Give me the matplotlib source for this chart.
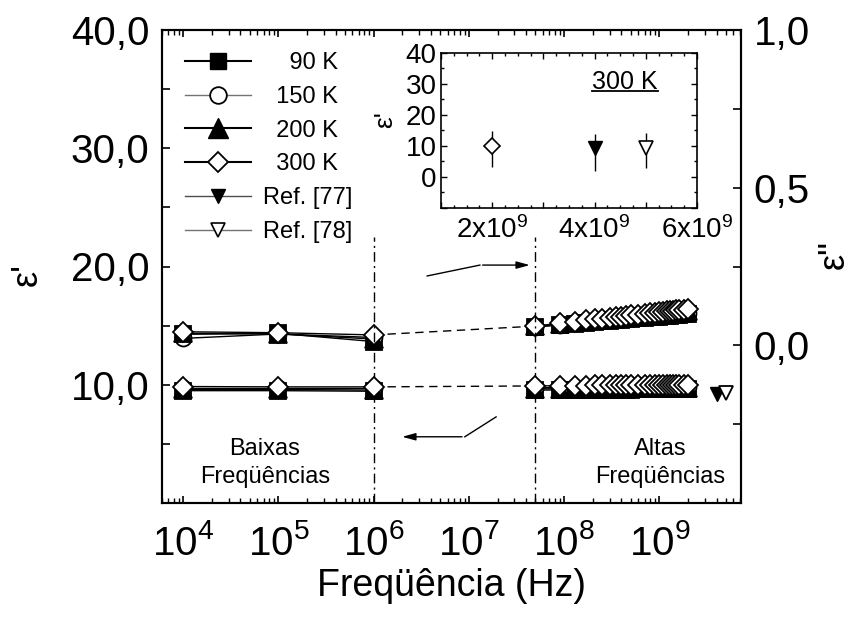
import math
import matplotlib
matplotlib.use('Agg')
import matplotlib.pyplot as plt
from matplotlib.lines import Line2D
from matplotlib.ticker import FuncFormatter, MultipleLocator, LogLocator, NullFormatter, FixedLocator

plt.rcParams['font.family'] = ['Liberation Sans', 'DejaVu Sans']
plt.rcParams['mathtext.fontset'] = 'custom'
plt.rcParams['mathtext.rm'] = 'Liberation Sans'
plt.rcParams['mathtext.it'] = 'Liberation Sans:italic'
plt.rcParams['mathtext.bf'] = 'Liberation Sans:bold'

# ---------------- data ----------------
legend_labels = ['    90 K', '  150 K', '  200 K', '  300 K', 'Ref. [77]', 'Ref. [78]']
x_decades = [4, 5, 6, 7, 8, 9]

freq_low = [1e4, 1e5, 1e6]
# eps' (left axis)
eps1_low_90 = [9.50, 9.50, 9.45]
eps1_low_150 = [9.70, 9.70, 9.70]
eps1_low_200 = [9.60, 9.60, 9.55]
eps1_low_300 = [9.85, 9.82, 9.82]
# eps'' (right axis)
eps2_low_90 = [0.035, 0.038, 0.012]
eps2_low_150 = [0.022, 0.036, 0.025]
eps2_low_200 = [0.038, 0.036, 0.020]
eps2_low_300 = [0.043, 0.040, 0.033]

freq_high_ghz = [0.05, 0.09, 0.13, 0.17, 0.21, 0.25, 0.30, 0.35, 0.40, 0.45, 0.50, 0.60,
                 0.70, 0.80, 0.90, 1.00, 1.10, 1.20, 1.30, 1.40, 1.50, 1.60, 1.80, 2.00]
eps1_high_90 = [9.55, 9.56, 9.56, 9.57, 9.57, 9.58, 9.58, 9.58, 9.59, 9.59, 9.59, 9.60,
                9.60, 9.60, 9.61, 9.61, 9.61, 9.62, 9.62, 9.62, 9.62, 9.63, 9.63, 9.64]
eps1_high_150 = [9.75, 9.76, 9.76, 9.77, 9.77, 9.77, 9.78, 9.78, 9.78, 9.79, 9.79, 9.79,
                 9.80, 9.80, 9.80, 9.81, 9.81, 9.81, 9.82, 9.82, 9.82, 9.83, 9.83, 9.84]
eps1_high_200 = [9.65, 9.66, 9.66, 9.67, 9.67, 9.68, 9.68, 9.68, 9.69, 9.69, 9.69, 9.70,
                 9.70, 9.70, 9.71, 9.71, 9.71, 9.72, 9.72, 9.72, 9.72, 9.73, 9.73, 9.74]
eps1_high_300 = [9.90, 9.92, 9.93, 9.93, 9.94, 9.94, 9.95, 9.95, 9.95, 9.96, 9.96, 9.96,
                 9.97, 9.97, 9.97, 9.98, 9.98, 9.98, 9.98, 9.99, 9.99, 9.99, 10.00, 10.00]
eps2_high_90 = [0.058, 0.064, 0.068, 0.071, 0.074, 0.076, 0.078, 0.080, 0.081, 0.083, 0.084, 0.086,
                0.088, 0.089, 0.090, 0.091, 0.092, 0.093, 0.094, 0.095, 0.096, 0.097, 0.098, 0.099]
eps2_high_150 = [0.059, 0.066, 0.071, 0.074, 0.077, 0.079, 0.081, 0.083, 0.085, 0.086, 0.088, 0.090,
                 0.092, 0.093, 0.094, 0.096, 0.097, 0.098, 0.099, 0.100, 0.101, 0.102, 0.103, 0.104]
eps2_high_200 = [0.060, 0.068, 0.073, 0.077, 0.080, 0.082, 0.085, 0.087, 0.088, 0.090, 0.092, 0.094,
                 0.096, 0.098, 0.099, 0.101, 0.102, 0.103, 0.104, 0.105, 0.106, 0.107, 0.108, 0.110]
eps2_high_300 = [0.061, 0.070, 0.075, 0.079, 0.082, 0.085, 0.087, 0.090, 0.091, 0.093, 0.095, 0.097,
                 0.100, 0.102, 0.103, 0.105, 0.106, 0.108, 0.109, 0.110, 0.111, 0.112, 0.113, 0.115]

# literature values
ref77_freq = [4e9]
ref77_eps1 = [9.2]
ref77_err_low = [7.2]
ref77_err_high = [4.6]
ref78_freq = [5e9]
ref78_eps1 = [9.3]
ref78_err_low = [6.6]
ref78_err_high = [4.8]
inset_300_freq = [2e9]
inset_300_eps1 = [9.8]
inset_300_err_low = [6.6]
inset_300_err_high = [4.8]

break_freqs = [1e6, 5e7]

freq_high = [f * 1e9 for f in freq_high_ghz]

# ---------------- figure ----------------
fig = plt.figure(figsize=(8.68, 6.25), dpi=100)
ax = fig.add_axes([162/868, 1-503/625, 579/868, 473/625])
ax2 = ax.twinx()
ax.set_zorder(ax2.get_zorder() + 1)
ax.patch.set_visible(False)
ax2.tick_params(axis='x', which='both', labelbottom=False, labeltop=False, bottom=False, top=False)

styles = {
    '90':  dict(marker='s', ms=11, mfc='k', mec='k', color='k'),
    '150': dict(marker='o', ms=11.5, mfc='w', mec='k', color='k'),
    '200': dict(marker='^', ms=12.5, mfc='k', mec='k', color='k'),
    '300': dict(marker='D', ms=9.8, mfc='w', mec='k', color='k'),
}
series = [
    ('90', eps1_low_90, eps2_low_90, eps1_high_90, eps2_high_90),
    ('150', eps1_low_150, eps2_low_150, eps1_high_150, eps2_high_150),
    ('200', eps1_low_200, eps2_low_200, eps1_high_200, eps2_high_200),
    ('300', eps1_low_300, eps2_low_300, eps1_high_300, eps2_high_300),
]
for i, (key, e1l, e2l, e1h, e2h) in enumerate(series):
    st = styles[key]
    z = 3 + i
    ax.plot(freq_low, e1l, lw=1, mew=1.3, zorder=z, **st)
    ax.plot(freq_high, e1h, lw=1, mew=1.3, zorder=z, **st)
    ax2.plot(freq_low, e2l, lw=1, mew=1.3, zorder=z, **st)
    ax2.plot(freq_high, e2h, lw=1, mew=1.3, zorder=z, **st)

# dashed connections across the gap
ax.plot([freq_low[-1], freq_high[0]], [eps1_low_300[-1], eps1_high_300[0]],
        color='k', lw=1, dashes=(6, 4), zorder=2)
ax2.plot([freq_low[-1], freq_high[0]], [eps2_low_300[-1], eps2_high_300[0]],
         color='k', lw=1, dashes=(6, 4), zorder=2)

# reference points in main plot
ax.plot(ref77_freq, ref77_eps1, ls='none', marker='v', ms=10, mfc='k', mec='k', zorder=8)
ax.plot(ref78_freq, ref78_eps1, ls='none', marker='v', ms=10, mfc='w', mec='k', mew=1.3, zorder=9)

# vertical dash-dot separators
for bf in break_freqs:
    ax.plot([bf, bf], [0, 22.5], color='k', lw=1, dashes=(7, 3, 1.5, 3), zorder=1)

ax.set_xscale('log')
ax.set_xlim(6e3, 7.2e9)
ax.set_ylim(0, 40)
ax2.set_ylim(-0.5, 1.0)

ax.xaxis.set_major_locator(FixedLocator([10.0 ** d for d in x_decades]))
ax.xaxis.set_minor_locator(LogLocator(base=10, subs=tuple(range(2, 10)), numticks=30))
ax.xaxis.set_minor_formatter(NullFormatter())
ax.xaxis.set_major_formatter(FuncFormatter(lambda v, p: r'$\mathregular{10^{%d}}$' % round(math.log10(v))))

ax.yaxis.set_major_locator(MultipleLocator(10))
ax.yaxis.set_minor_locator(MultipleLocator(5))
ax.yaxis.set_major_formatter(FuncFormatter(lambda v, p: ('%.1f' % v).replace('.', ',') if v > 0 else ''))
ax2.yaxis.set_major_locator(MultipleLocator(0.5))
ax2.yaxis.set_minor_locator(MultipleLocator(0.25))
ax2.yaxis.set_major_formatter(FuncFormatter(lambda v, p: ('%.1f' % v).replace('.', ',').replace('-0,0', '0,0') if v > -0.4 else ''))

ax.tick_params(axis='x', which='both', direction='in', top=True, bottom=True, labelsize=29, pad=15)
ax.tick_params(axis='x', which='major', length=5, width=1.2)
ax.tick_params(axis='x', which='minor', length=3.5, width=1)
ax.tick_params(axis='y', which='both', direction='in', left=True, right=False, labelsize=29, pad=9)
ax.tick_params(axis='y', which='major', length=6, width=1.2)
ax.tick_params(axis='y', which='minor', length=6, width=1.2)
ax2.tick_params(axis='y', which='both', direction='in', right=True, left=False, labelsize=29, pad=9)
ax2.tick_params(axis='y', which='major', length=6, width=1.2)
ax2.tick_params(axis='y', which='minor', length=6, width=1.2)
for a in (ax, ax2):
    for s in a.spines.values():
        s.set_linewidth(1.5)

ax.set_xlabel('Freqüência (Hz)', fontsize=27, labelpad=4)
ax.set_ylabel("ε'", fontsize=26, rotation=90)
ax.yaxis.label.set_verticalalignment('center')
ax.yaxis.set_label_coords((27-162)/579, (503-275)/473)
ax2.set_ylabel('ε"', fontsize=26, rotation=90)
ax2.yaxis.label.set_verticalalignment('center')
ax2.yaxis.set_label_coords((834-162)/579, (503-255)/473)

# arrows
ax.plot([0.458, 0.549], [0.480, 0.503], transform=ax.transAxes, color='k', lw=1)
ax.annotate('', xy=(0.640, 0.503), xytext=(0.549, 0.503), xycoords='axes fraction',
            arrowprops=dict(arrowstyle='-|>,head_length=0.8,head_width=0.22', color='k', lw=1))
ax.plot([0.577, 0.523], [0.182, 0.140], transform=ax.transAxes, color='k', lw=1)
ax.annotate('', xy=(0.410, 0.140), xytext=(0.523, 0.140), xycoords='axes fraction',
            arrowprops=dict(arrowstyle='-|>,head_length=0.8,head_width=0.22', color='k', lw=1))

# region labels
ax.text((265-162)/579, (503-463)/473, 'Baixas\nFreqüências', transform=ax.transAxes,
        ha='center', va='center', fontsize=17, linespacing=1.35)
ax.text((660-162)/579, (503-463)/473, 'Altas\nFreqüências', transform=ax.transAxes,
        ha='center', va='center', fontsize=17, linespacing=1.35)

# legend
handles = [
    Line2D([], [], color='k', lw=1.5, marker='s', ms=12, mfc='k', mec='k'),
    Line2D([], [], color='0.45', lw=1, marker='o', ms=12, mfc='w', mec='k', mew=1.3),
    Line2D([], [], color='k', lw=1.5, marker='^', ms=14, mfc='k', mec='k'),
    Line2D([], [], color='k', lw=1.5, marker='D', ms=10, mfc='w', mec='k', mew=1.3),
    Line2D([], [], color='0.3', lw=1, marker='v', ms=9.5, mfc='k', mec='k'),
    Line2D([], [], color='0.45', lw=1, marker='v', ms=9.5, mfc='w', mec='k', mew=1.2),
]
leg = ax.legend(handles, legend_labels, loc='upper left', bbox_to_anchor=((185-162)/579, (503-52)/473),
                frameon=False, fontsize=17, handlelength=2.8, handletextpad=0.5,
                labelspacing=0.5, borderpad=0, borderaxespad=0)

# inset
ins = fig.add_axes([441/868, 1-207.7/625, 256/868, 155/625])
ins.errorbar(inset_300_freq, inset_300_eps1, yerr=[inset_300_err_low, inset_300_err_high],
             fmt='D', ms=8, mfc='w', mec='k', mew=1.2, ecolor='k', elinewidth=1, capsize=0)
ins.errorbar(ref77_freq, ref77_eps1, yerr=[ref77_err_low, ref77_err_high],
             fmt='v', ms=10, mfc='k', mec='k', ecolor='k', elinewidth=1, capsize=0)
ins.errorbar(ref78_freq, ref78_eps1, yerr=[ref78_err_low, ref78_err_high],
             fmt='v', ms=10, mfc='w', mec='k', mew=1.2, ecolor='k', elinewidth=1, capsize=0)
ins.set_xlim(1e9, 6e9)
ins.set_ylim(-10, 40)
ins.xaxis.set_major_locator(MultipleLocator(1e9))
ins.xaxis.set_minor_locator(MultipleLocator(0.25e9))
ins.xaxis.set_major_formatter(FuncFormatter(
    lambda v, p: (r'$\mathregular{%dx10^{9}}$' % round(v/1e9)) if round(v/1e9) % 2 == 0 else ''))
ins.yaxis.set_major_locator(MultipleLocator(10))
ins.yaxis.set_minor_locator(MultipleLocator(5))
ins.yaxis.set_major_formatter(FuncFormatter(lambda v, p: '%d' % v if v >= 0 else ''))
ins.tick_params(which='both', direction='in', top=True, right=True, labelsize=20)
ins.tick_params(which='major', length=4, width=1)
ins.tick_params(which='minor', length=2.5, width=1)
ins.tick_params(axis='x', pad=6)
ins.tick_params(axis='y', pad=3)
for s in ins.spines.values():
    s.set_linewidth(1.2)
ins.set_ylabel("ε'", fontsize=19, rotation=90)
ins.yaxis.label.set_verticalalignment('center')
ins.yaxis.set_label_coords((385-441)/256, (207.7-120)/155)
ins.text(0.719, 0.813, '300 K', transform=ins.transAxes, ha='center', va='center', fontsize=18)
ins.plot([0.589, 0.849], [0.755, 0.755], transform=ins.transAxes, color='k', lw=1.3)

fig.savefig('out.png', dpi=100)
